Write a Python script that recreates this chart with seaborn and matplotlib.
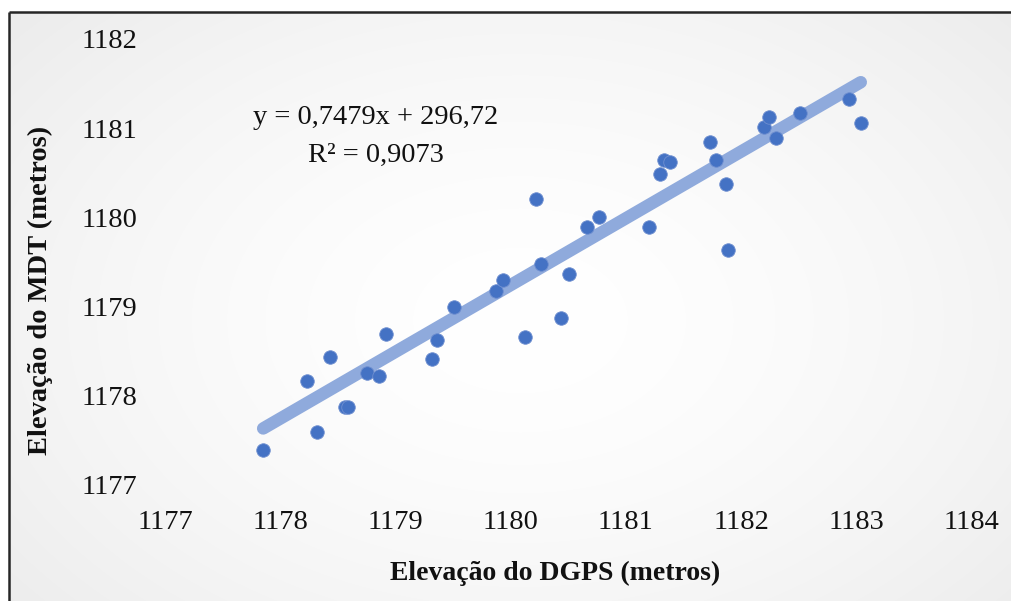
import numpy as np
import pandas as pd
import matplotlib
matplotlib.use("Agg")
import matplotlib.pyplot as plt
from matplotlib.lines import Line2D
import seaborn as sns

# Elevation pairs: DGPS survey (x) vs. DEM/MDT (y), in metres
dgps = [1177.85, 1178.23, 1178.32, 1178.43, 1178.56, 1178.59, 1178.75, 1178.86,
        1178.92, 1179.32, 1179.36, 1179.51, 1179.87, 1179.93, 1180.12, 1180.22,
        1180.26, 1180.44, 1180.51, 1180.66, 1180.77, 1181.20, 1181.30, 1181.33,
        1181.38, 1181.73, 1181.78, 1181.87, 1181.89, 1182.20, 1182.24, 1182.30,
        1182.51, 1182.94, 1183.04]
mdt = [1177.39, 1178.17, 1177.59, 1178.44, 1177.88, 1177.88, 1178.26, 1178.22,
       1178.69, 1178.41, 1178.63, 1179.00, 1179.18, 1179.30, 1178.66, 1180.21,
       1179.48, 1178.87, 1179.37, 1179.89, 1180.01, 1179.89, 1180.49, 1180.64,
       1180.62, 1180.84, 1180.64, 1180.38, 1179.64, 1181.01, 1181.12, 1180.89,
       1181.17, 1181.33, 1181.06]

# Linear trend line coefficients (as printed on the chart)
slope = 0.7479
intercept = 296.72
r_squared = 0.9073

x_ticks = [1177, 1178, 1179, 1180, 1181, 1182, 1183, 1184]
y_ticks = [1177, 1178, 1179, 1180, 1181, 1182]

x_title = "Elevação do DGPS (metros)"
y_title = "Elevação do MDT (metros)"

sns.set_theme(style="white")
plt.rcParams["font.family"] = ["Liberation Serif", "DejaVu Serif"]

W, H = 1011, 601
fig = plt.figure(figsize=(W / 100, H / 100), dpi=100)
fig.patch.set_facecolor("white")

# Chart-area background: soft radial gradient, white in the middle
bg = fig.add_axes([0, 0, 1, 1], zorder=-10)
bg.axis("off")
yy, xx = np.mgrid[0:H, 0:W]
cx, cy = 520, 320
r = np.sqrt(((xx - cx) / 620.0) ** 2 + ((yy - cy) / 420.0) ** 2)
shade = 1.0 - 0.065 * np.clip(r, 0, 1.2) ** 1.6
left_px, top_px = 9, 12
shade[:top_px, :] = 1.0
shade[:, :left_px] = 1.0
img = np.dstack([shade, shade, shade])
bg.imshow(img, extent=[0, 1, 0, 1], aspect="auto", interpolation="bilinear")

# Chart-area frame (top and left edges)
fx = left_px / W
fy = 1 - top_px / H
fig.add_artist(Line2D([fx, fx], [0, fy], transform=fig.transFigure,
                      color="#262626", lw=1.8, solid_capstyle="butt"))
fig.add_artist(Line2D([fx, 1.01], [fy, fy], transform=fig.transFigure,
                      color="#262626", lw=1.8, solid_capstyle="butt"))

ax = fig.add_axes([165.3 / W, 1 - 485 / H, 806 / W, 446 / H])
ax.patch.set_alpha(0)

df = pd.DataFrame({"dgps": dgps, "mdt": mdt})

# Trend line across the observed DGPS range
x_fit = np.array([df["dgps"].min(), df["dgps"].max()])
trend = pd.DataFrame({"x": x_fit, "y": slope * x_fit + intercept})
sns.lineplot(data=trend, x="x", y="y", ax=ax, color="#8FAADC", lw=9.0,
             solid_capstyle="round", zorder=2, legend=False)

sns.scatterplot(data=df, x="dgps", y="mdt", ax=ax, color="#4472C4", s=95,
                edgecolor="#6f8fd0", linewidth=0.6, zorder=3, legend=False)

ax.set_xlim(x_ticks[0], x_ticks[-1])
ax.set_ylim(y_ticks[0], y_ticks[-1])
ax.set_xticks(x_ticks)
ax.set_yticks(y_ticks)
ax.set_xticklabels([str(v) for v in x_ticks])
ax.set_yticklabels([str(v) for v in y_ticks])
for s in ax.spines.values():
    s.set_visible(False)
ax.grid(False)
ax.tick_params(axis="both", length=0, labelsize=20.5, colors="#111111")
ax.tick_params(axis="x", pad=18)
ax.tick_params(axis="y", pad=20)

ax.set_xlabel(x_title, fontsize=20, fontweight="bold", color="#111111")
ax.set_ylabel(y_title, fontsize=20.5, fontweight="bold", color="#111111")
ax.xaxis.set_label_coords((555 - 165.3) / 806, (485 - 561) / 446)
ax.yaxis.set_label_coords((53 - 165.3) / 806, (485 - 290) / 446)

eq_text = (f"y = {slope:.4f}x + {intercept:.2f}".replace(".", ",")
           + "\n" + f"R² = {r_squared:.4f}".replace(".", ","))
ax.text(1178.83, 1180.91, eq_text, fontsize=20.5, color="#111111",
        ha="center", va="center", multialignment="center", linespacing=1.7)

fig.savefig("out.png", dpi=100)
